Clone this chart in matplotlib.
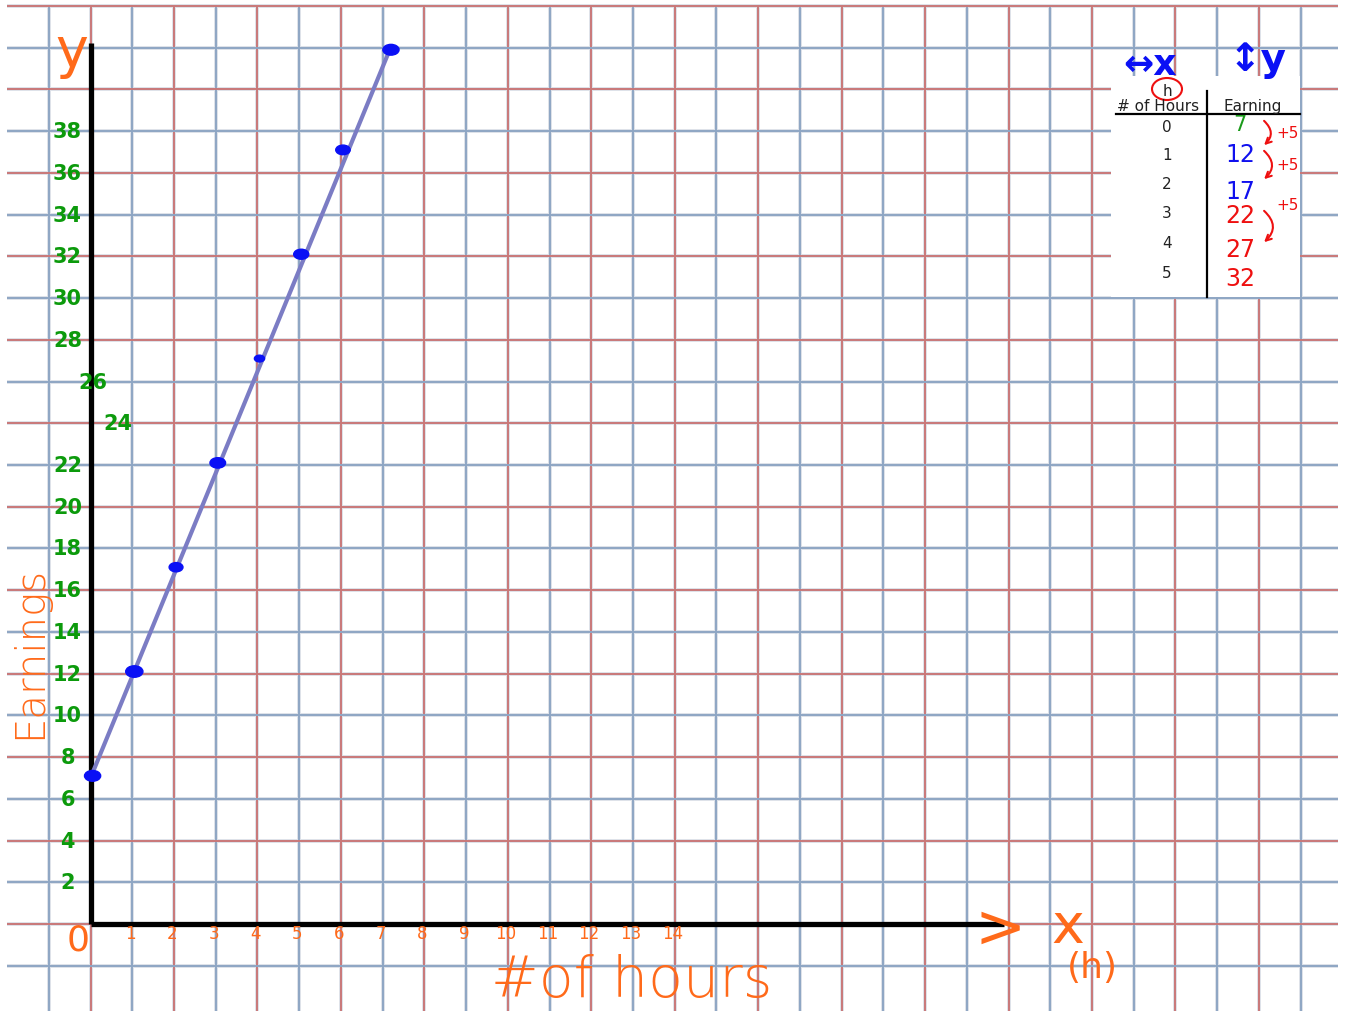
import numpy as np
import matplotlib
matplotlib.use("Agg")
from matplotlib import pyplot as plt
from matplotlib.patches import Rectangle, Ellipse, FancyArrowPatch

hours = [0, 1, 2, 3, 4, 5, 6, 7.15]
earnings = [7, 12, 17, 22, 27, 32, 37, 41.8]
dot_sizes = [150, 170, 110, 140, 60, 130, 120, 150]
x_ticks = list(range(0, 15))
y_ticks = list(range(2, 40, 2))
table_hours = [0, 1, 2, 3, 4, 5]
table_earnings = [7, 12, 17, 22, 27, 32]
table_colors = ["#1a9a1a", "#1010ee", "#1010ee", "#ee1010", "#ee1010", "#ee1010"]

W, H = 1350, 1012
X0, Y0, S = 90.5, 925.0, 41.73   # pixel origin and grid step

ORANGE = "#ff6a1a"
GREEN = "#0c9a0c"
RED_GRID = "#c97878"
BLUE_GRID = "#8ea6c4"


def px(x, y):
    # pixel position -> figure fraction
    return x / W, 1 - y / H


fig = plt.figure(figsize=(W / 100, H / 100), dpi=100)
fig.patch.set_facecolor("white")
ax = fig.add_axes([0, 0, 1, 1])
ax.set_xlim(-X0 / S, (W - X0) / S)
ax.set_ylim(-(H - Y0) / (S / 2), Y0 / (S / 2))
ax.axis("off")

# graph paper
for h in range(-1, 30):
    c = RED_GRID if h % 2 == 0 else BLUE_GRID
    ax.plot([h, h], [-4.3, 44], color="#dde1e8", lw=2.8, zorder=1, solid_capstyle="butt")
    ax.plot([h, h], [-4.3, 44], color=c, lw=1.4, zorder=1.1, solid_capstyle="butt")
for e in range(-2, 46, 2):
    c = RED_GRID if e % 4 == 0 else BLUE_GRID
    ax.plot([-2.0, 29.9], [e, e], color="#dde1e8", lw=2.8, zorder=1, solid_capstyle="butt")
    ax.plot([-2.0, 29.9], [e, e], color=c, lw=1.4, zorder=1.1, solid_capstyle="butt")

# axes
ax.plot([0, 0], [0, 42.2], color="black", lw=3.8, zorder=3, solid_capstyle="butt")
ax.plot([0, 21.9], [0, 0], color="black", lw=3.8, zorder=3, solid_capstyle="butt")

# line and dots
ax.plot([hours[0], hours[-1]], [earnings[0], earnings[-1]], color="#7b7cc4", lw=3.0, zorder=4)
for h, e, s in zip(hours, earnings, dot_sizes):
    w = np.sqrt(s) / S * 1.1
    ax.add_patch(Ellipse((h + 0.05, e + 0.1), w * 1.2, w * 1.6, color="#0a10f5", zorder=5))

# y labels (green, by hand)
for v in y_ticks:
    xoff = -0.55
    if v == 26:
        xoff = 0.05
    if v == 24:
        xoff = 0.65
    ax.text(xoff, v, str(v), color=GREEN, fontsize=15, fontweight="bold",
            ha="center", va="center", zorder=6)

# x labels (orange)
for v in x_ticks:
    if v == 0:
        ax.text(-0.3, -0.75, "0", color=ORANGE, fontsize=26, ha="center", va="center", zorder=6)
    else:
        ax.text(v - 0.05, -0.42, str(v), color=ORANGE, fontsize=12, ha="center", va="center", zorder=6)

# axis titles
fig.text(*px(632, 997), "#of hours", color=ORANGE, fontsize=41, ha="center", va="baseline",
         fontweight="light")
fig.text(*px(30, 652), "Earnings", color=ORANGE, fontsize=29, ha="center", va="center",
         rotation=90, fontweight="light")
fig.text(*px(72, 52), "y", color=ORANGE, fontsize=40, ha="center", va="center")
fig.text(*px(1000, 930), ">", color=ORANGE, fontsize=44, ha="center", va="center")
fig.text(*px(1068, 928), "x", color=ORANGE, fontsize=40, ha="center", va="center")
fig.text(*px(1092, 968), "(h)", color=ORANGE, fontsize=26, ha="center", va="center")

# table in the corner
x0, y0 = px(1111, 298)
x1, y1 = px(1300, 77)
ax.add_patch(Rectangle((x0, y0), x1 - x0, y1 - y0, transform=fig.transFigure,
                       facecolor="white", edgecolor="none", zorder=7))
fig.add_artist(plt.Line2D([px(1116, 0)[0], px(1300, 0)[0]], [px(0, 115)[1]] * 2,
                          color="black", lw=1.6, zorder=8))
fig.add_artist(plt.Line2D([px(1207, 0)[0]] * 2, [px(0, 92)[1], px(0, 298)[1]],
                          color="black", lw=1.6, zorder=8))
fig.text(*px(1158, 107), "# of Hours", fontsize=11, ha="center", va="center",
         color="#222222", zorder=9)
fig.text(*px(1253, 107), "Earning", fontsize=11, ha="center", va="center",
         color="#222222", zorder=9)
fig.text(*px(1167, 91), "h", fontsize=11, ha="center", va="center", color="#222222", zorder=9)
fig.add_artist(Ellipse(px(1167, 90), 30 / W, 22 / H, transform=fig.transFigure,
                       fill=False, edgecolor="#ee1010", lw=1.5, zorder=9))
row_y = [127, 156, 185, 214, 244, 273]
for yy, h in zip(row_y, table_hours):
    fig.text(*px(1167, yy), str(h), fontsize=11, ha="center", va="center",
             color="#222222", zorder=9)
earn_y = [125, 155, 192, 216, 250, 279]
for i, (yy, e, c) in enumerate(zip(earn_y, table_earnings, table_colors)):
    fig.text(*px(1240, yy), str(e), fontsize=15 if i == 0 else 17, ha="center",
             va="center", color=c, zorder=9)

# +5 notes with curly arrows
for ya, yb, yt in [(120, 148, 133), (150, 182, 166), (210, 245, 205)]:
    fig.add_artist(FancyArrowPatch(
        px(1262, ya), px(1262, yb), transform=fig.transFigure,
        connectionstyle="arc3,rad=-0.6", arrowstyle="->", mutation_scale=10,
        color="#ee1010", lw=1.5, zorder=9))
    fig.text(*px(1288, yt), "+5", fontsize=11, ha="center", va="center",
             color="#ee1010", zorder=9)

fig.text(*px(1150, 65), "\u2194x", fontsize=26, fontweight="bold", ha="center",
         va="center", color="#0a10f5", zorder=9)
fig.text(*px(1258, 60), "\u2195y", fontsize=28, fontweight="bold", ha="center",
         va="center", color="#0a10f5", zorder=9)

fig.savefig("out.png", dpi=100, facecolor="white")
